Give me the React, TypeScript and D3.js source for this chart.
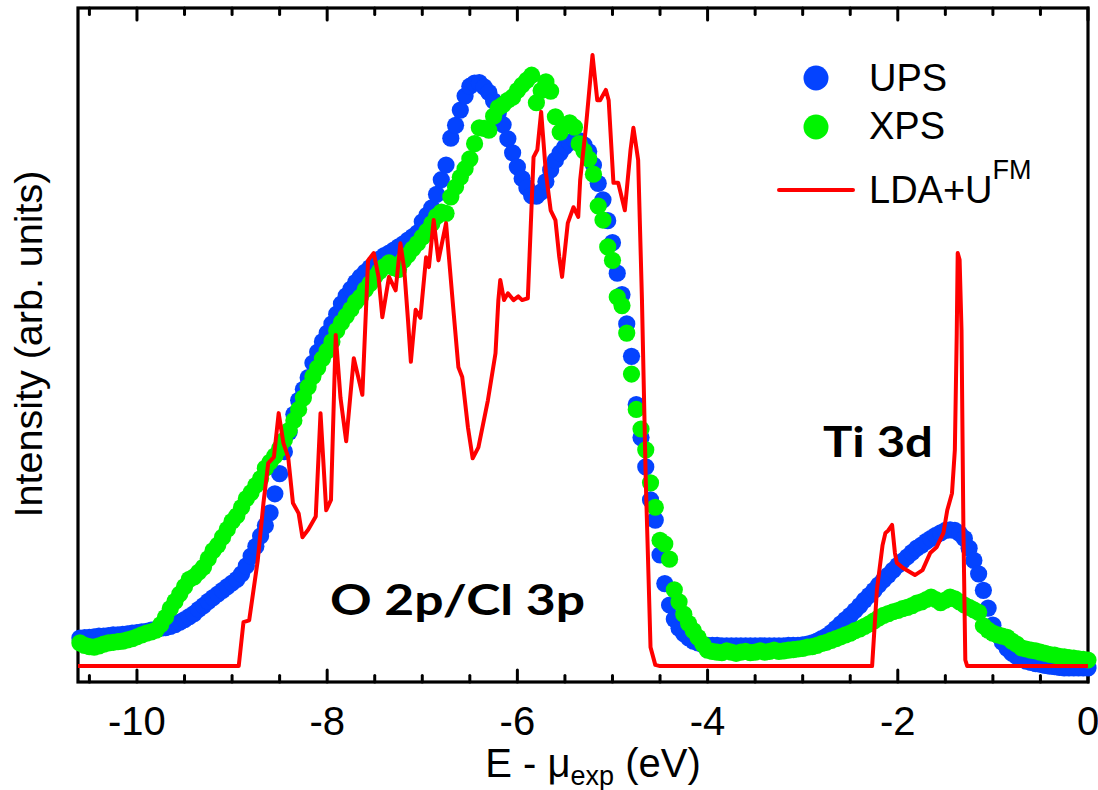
import React from "react";
import * as d3 from "d3";

const W = 1098;
const H = 790;
const frame = { left: 78, right: 1088, top: 8, bottom: 682 };

// Photoemission spectra sampled on a uniform energy grid (eV)
const gridStart = -10.6;
const gridStep = 0.05;

// UPS intensity, rows of 10 points (0.5 eV per row)
const upsIntensity = [
  4.6, 4.65, 4.7, 4.8, 4.9, 4.9, 5.0, 5.1, 5.1, 5.2,
  5.3, 5.4, 5.5, 5.6, 5.7, 5.9, 6.0, 6.2, 6.3, 6.5,
  6.8, 7.2, 7.6, 8.1, 8.6, 9.3, 9.9, 10.6, 11.2, 11.8,
  12.4, 13.0, 13.6, 14.2, 15.1, 16.4, 18.0, 19.6, 21.3, 23.0,
  25.1, 28.2, 31.5, 35.1, 38.3, 41.2, 43.5, 45.3, 47.2, 49.6,
  51.4, 53.1, 54.5, 56.0, 57.6, 59.3, 60.6, 61.7, 62.8, 63.7,
  64.5, 65.2, 65.9, 66.6, 67.2, 67.6, 68.1, 68.6, 69.1, 69.7,
  70.3, 70.9, 72.7, 73.8, 75.0, 77.2, 79.6, 82.0, 86.4, 88.5,
  91.0, 93.3, 94.9, 95.4, 95.5, 94.8, 93.9, 92.5, 90.6, 88.6,
  86.3, 84.0, 81.7, 79.8, 78.3, 77.0, 76.9, 77.6, 79.3, 81.2,
  82.8, 84.0, 85.0, 85.7, 86.1, 86.0, 85.3, 84.2, 82.0, 79.0,
  76.3, 72.9, 69.3, 64.3, 60.8, 56.0, 50.7, 42.8, 37.4, 32.6,
  27.2, 23.9, 18.2, 13.5, 10.0, 7.7, 6.2, 5.3, 4.6, 4.1,
  3.8, 3.5, 3.4, 3.4, 3.4, 3.3, 3.3, 3.3, 3.3, 3.3,
  3.3, 3.3, 3.3, 3.3, 3.3, 3.3, 3.3, 3.3, 3.3, 3.4,
  3.4, 3.4, 3.5, 3.6, 3.8, 4.1, 4.5, 4.9, 5.5, 6.2,
  6.9, 7.6, 8.3, 9.1, 9.9, 10.8, 11.6, 12.4, 13.3, 14.1,
  14.9, 15.7, 16.5, 17.2, 17.9, 18.6, 19.3, 19.8, 20.4, 20.9,
  21.4, 21.8, 22.2, 22.3, 22.2, 21.7, 20.9, 19.3, 17.3, 15.1,
  12.4, 9.5, 6.7, 5.1, 3.9, 2.9, 2.1, 1.6, 1.1, 0.8,
  0.6, 0.4, 0.3, 0.1, 0.0, -0.1, -0.2, -0.3, -0.3, -0.3,
  -0.3, -0.3, -0.3,
];

// XPS intensity on the same grid
const xpsIntensity = [
  3.8, 3.4, 3.2, 3.1, 3.3, 3.6, 3.8, 3.9, 4.0, 4.1,
  4.3, 4.5, 4.8, 5.1, 5.4, 5.6, 5.9, 6.8, 8.0, 9.4,
  10.6, 11.8, 13.0, 14.2, 14.6, 15.4, 16.2, 17.6, 18.9, 19.8,
  21.1, 22.4, 23.7, 24.6, 26.0, 27.4, 28.4, 29.6, 30.7, 32.4,
  33.4, 34.4, 35.6, 37.0, 38.6, 40.2, 42.0, 43.9, 45.7, 47.4,
  48.8, 50.3, 51.6, 53.1, 54.9, 56.2, 57.3, 58.4, 59.6, 60.4,
  61.6, 62.6, 63.7, 64.6, 65.4, 66.0, 65.2, 64.9, 66.4, 67.3,
  68.3, 69.2, 70.2, 71.2, 72.4, 73.6, 74.3, 74.1, 76.8, 78.4,
  80.0, 81.4, 83.0, 85.5, 88.1, 88.0, 87.7, 90.0, 91.4, 91.9,
  92.6, 93.1, 94.2, 95.1, 95.9, 96.7, 92.2, 94.2, 95.6, 94.1,
  89.9, 87.4, 88.5, 88.9, 88.2, 85.5, 84.3, 83.0, 80.5, 75.3,
  73.0, 68.6, 66.4, 60.4, 59.0, 54.5, 47.8, 42.0, 38.8, 35.4,
  30.0, 26.0, 20.6, 20.0, 17.5, 12.5, 10.5, 8.5, 7.0, 5.8,
  4.7, 3.6, 2.6, 2.4, 2.3, 2.2, 2.5, 2.3, 2.1, 2.3,
  2.4, 2.2, 2.3, 2.5, 2.3, 2.4, 2.6, 2.4, 2.5, 2.6,
  2.7, 2.8, 2.9, 3.1, 3.2, 3.4, 3.7, 3.9, 4.2, 4.5,
  4.8, 5.1, 5.4, 5.8, 6.1, 6.5, 6.9, 7.4, 7.9, 8.3,
  8.6, 8.9, 9.1, 9.4, 9.6, 9.9, 10.3, 10.5, 10.9, 11.3,
  10.9, 10.4, 10.8, 11.3, 11.0, 10.5, 10.0, 9.6, 9.2, 8.8,
  6.6, 5.9, 5.4, 5.1, 4.9, 4.7, 4.1, 3.6, 3.0, 2.8,
  2.6, 2.5, 2.3, 2.1, 1.9, 1.8, 1.6, 1.5, 1.4, 1.3,
  1.2, 1.1, 1.0,
];

// LDA+U (FM) density of states: [energy eV, intensity]
const ldaCurve: [number, number][] = [
  [-10.62, 0], [-8.93, 0], [-8.88, 7.2], [-8.82, 7.5], [-8.73, 17.3], [-8.67, 26.7],
  [-8.62, 33.2], [-8.56, 34.2], [-8.51, 41.4], [-8.46, 36.5], [-8.41, 34.2], [-8.36, 26.7],
  [-8.3, 25.0], [-8.26, 21.1], [-8.2, 22.3], [-8.12, 24.5], [-8.07, 41.4], [-8.01, 25.5],
  [-7.96, 27.2], [-7.91, 54.2], [-7.86, 43.9], [-7.8, 36.8], [-7.72, 50.4], [-7.63, 44.4],
  [-7.57, 66.4], [-7.51, 67.6], [-7.46, 63.7], [-7.42, 57.1], [-7.35, 63.7], [-7.28, 61.5],
  [-7.23, 69.2], [-7.19, 65.0], [-7.15, 56.6], [-7.12, 49.8], [-7.07, 58.3], [-7.02, 57.0],
  [-6.96, 66.9], [-6.93, 65.3], [-6.88, 73.0], [-6.83, 66.4], [-6.75, 72.5], [-6.67, 57.8],
  [-6.62, 48.9], [-6.58, 47.3], [-6.52, 39.1], [-6.47, 34.0], [-6.41, 35.8], [-6.31, 43.5],
  [-6.23, 51.2], [-6.2, 59.9], [-6.18, 63.2], [-6.14, 59.9], [-6.1, 61.0], [-6.04, 59.9],
  [-5.99, 60.5], [-5.95, 59.9], [-5.89, 60.2], [-5.83, 83.3], [-5.79, 84.5], [-5.75, 90.7],
  [-5.7, 80.7], [-5.65, 74.6], [-5.6, 73.0], [-5.56, 67.0], [-5.53, 63.7], [-5.47, 72.5],
  [-5.41, 75.1], [-5.36, 73.5], [-5.34, 79.5], [-5.28, 88.1], [-5.21, 100], [-5.16, 92.6],
  [-5.13, 92.6], [-5.07, 94.3], [-5.04, 92.6], [-4.99, 79.1], [-4.94, 79.1], [-4.87, 74.6],
  [-4.81, 84.5], [-4.78, 88.1], [-4.73, 82.8], [-4.69, 59.9], [-4.65, 30.4], [-4.62, 14.1],
  [-4.6, 3.1], [-4.55, 0.2], [-4.5, 0], [-2.27, 0], [-2.22, 12.4], [-2.16, 19.8],
  [-2.13, 21.8], [-2.1, 22.2], [-2.06, 23.1], [-2.03, 18.5], [-2.01, 16.9], [-1.94, 16.0],
  [-1.82, 14.9], [-1.74, 15.7], [-1.66, 18.5], [-1.59, 19.5], [-1.52, 21.8], [-1.48, 25.5],
  [-1.43, 28.3], [-1.4, 35.4], [-1.38, 54.5], [-1.37, 67.6], [-1.35, 66.5], [-1.33, 55.0],
  [-1.31, 22.3], [-1.29, 1.0], [-1.27, 0], [0, 0],
];

const majorTicks = [-10, -8, -6, -4, -2, 0];
const tickLabels = ["-10", "-8", "-6", "-4", "-2", "0"];
const minorStep = 0.5;

const seriesNames = ["UPS", "XPS", "LDA+U"];
const colors = { ups: "#0443ff", xps: "#00f400", lda: "#ff0000" };

const FONT = "'Liberation Sans', Arial, sans-serif";
const BOLD_FONT = "Lato, 'Open Sans', sans-serif";

export default function App() {
  const x = d3.scaleLinear().domain([-10.62, 0]).range([frame.left, frame.right]);
  const y = d3.scaleLinear().domain([-2.6, 107.7]).range([frame.bottom, frame.top]);

  const energyAt = (i: number) => gridStart + i * gridStep;
  const ups = upsIntensity.map((v, i) => [energyAt(i), v] as [number, number]);
  const xps = xpsIntensity.map((v, i) => [energyAt(i), v] as [number, number]);

  const line = d3
    .line<[number, number]>()
    .x((d) => x(d[0]))
    .y((d) => y(d[1]));

  const minorTicks = d3
    .range(-10.5, 0.001, minorStep)
    .filter((v) => !majorTicks.some((m) => Math.abs(m - v) < 1e-6));

  const R = 8.6;

  return (
    <svg
      width={W}
      height={H}
      viewBox={`0 0 ${W} ${H}`}
      style={{ position: "absolute", left: 0, top: 0, background: "#fff" }}
    >
      <rect x={0} y={0} width={W} height={H} fill="#fff" />

      {/* plot frame */}
      <rect
        x={frame.left}
        y={frame.top}
        width={frame.right - frame.left}
        height={frame.bottom - frame.top}
        fill="none"
        stroke="#000"
        strokeWidth={3.2}
      />

      {/* inward ticks on bottom and top axes */}
      <g stroke="#000" strokeWidth={3} strokeLinecap="round">
        {majorTicks.map((t) => (
          <g key={`M${t}`}>
            <line x1={x(t)} x2={x(t)} y1={frame.bottom} y2={frame.bottom - 12} />
            <line x1={x(t)} x2={x(t)} y1={frame.top} y2={frame.top + 12} />
          </g>
        ))}
        {minorTicks.map((t) => (
          <g key={`m${t}`}>
            <line x1={x(t)} x2={x(t)} y1={frame.bottom} y2={frame.bottom - 6.5} />
            <line x1={x(t)} x2={x(t)} y1={frame.top} y2={frame.top + 6.5} />
          </g>
        ))}
      </g>

      {/* tick labels */}
      <g fontFamily={FONT} fontSize={40} textAnchor="middle" fill="#000">
        {majorTicks.map((t, i) => (
          <text key={t} x={x(t)} y={735}>
            {tickLabels[i]}
          </text>
        ))}
      </g>

      {/* axis titles */}
      <text x={593} y={777} fontFamily={FONT} fontSize={40} textAnchor="middle" fill="#000">
        E - μ
        <tspan fontSize={27} dy={8}>exp</tspan>
        <tspan dy={-8}> (eV)</tspan>
      </text>
      <text
        transform="translate(42,344) rotate(-90)"
        fontFamily={FONT}
        fontSize={39.5}
        textAnchor="middle"
        fill="#000"
      >
        Intensity (arb. units)
      </text>

      {/* experimental spectra */}
      <g fill={colors.ups}>
        {ups.map((d, i) => (
          <circle key={i} cx={x(d[0])} cy={y(d[1])} r={R} />
        ))}
      </g>
      <g fill={colors.xps}>
        {xps.map((d, i) => (
          <circle key={i} cx={x(d[0])} cy={y(d[1])} r={R} />
        ))}
      </g>

      {/* calculated DOS */}
      <path
        d={line(ldaCurve) || ""}
        fill="none"
        stroke={colors.lda}
        strokeWidth={4}
        strokeLinejoin="round"
      />

      {/* band labels */}
      <text
        x={330}
        y={615}
        fontFamily={BOLD_FONT}
        fontWeight={700}
        fontSize={42}
        textLength={255}
        lengthAdjust="spacingAndGlyphs"
        fill="#000"
      >
        O 2p/Cl 3p
      </text>
      <text
        x={823}
        y={457}
        fontFamily={BOLD_FONT}
        fontWeight={700}
        fontSize={42}
        textLength={110}
        lengthAdjust="spacingAndGlyphs"
        fill="#000"
      >
        Ti 3d
      </text>

      {/* legend */}
      <g fontFamily={FONT} fontSize={38} fill="#000">
        <circle cx={816} cy={78} r={12.5} fill={colors.ups} />
        <text x={869} y={91}>{seriesNames[0]}</text>
        <circle cx={816} cy={127} r={12.5} fill={colors.xps} />
        <text x={869} y={139}>{seriesNames[1]}</text>
        <line x1={779} x2={853} y1={190} y2={190} stroke={colors.lda} strokeWidth={4} strokeLinecap="round" />
        <text x={869} y={203}>
          {seriesNames[2]}
          <tspan fontSize={27} dy={-24}>FM</tspan>
        </text>
      </g>
    </svg>
  );
}
